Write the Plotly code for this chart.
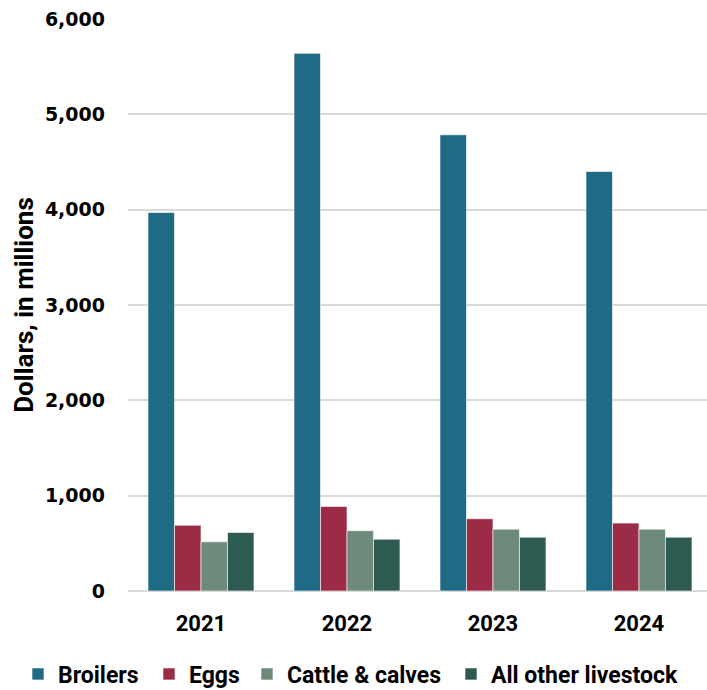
import plotly.graph_objects as go

years = ["2021", "2022", "2023", "2024"]
broilers = [3970, 5640, 4785, 4400]
eggs = [690, 887, 758, 712]
cattle = [516, 632, 649, 649]
other_livestock = [614, 544, 565, 565]

series = [
    ("Broilers", broilers, "#1f6a84"),
    ("Eggs", eggs, "#9c2b46"),
    ("Cattle & calves", cattle, "#6d8a7a"),
    ("All other livestock", other_livestock, "#2d5a51"),
]

# left edge (px) of each legend box along the bottom row
legend_left_px = [18, 149, 247, 451]
W, H = 707, 690

fig = go.Figure()
legend_layout = {}
for i, (name, vals, color) in enumerate(series):
    key = "legend" if i == 0 else f"legend{i + 1}"
    fig.add_trace(go.Bar(
        x=years, y=vals, name=name, legend=key, showlegend=True,
        marker=dict(color=color, line=dict(color="rgba(255,255,255,0.6)", width=1)),
    ))
    legend_layout[key] = dict(
        orientation="h", xref="container", yref="container",
        x=legend_left_px[i] / W, xanchor="left",
        y=16 / H, yanchor="middle",
        font=dict(family="Roboto", size=23, weight="bold"),
        itemwidth=30, bgcolor="rgba(0,0,0,0)",
    )

fig.update_layout(
    width=W, height=H, showlegend=True,
    margin=dict(l=128, r=0, t=19, b=99, autoexpand=False),
    paper_bgcolor="white", plot_bgcolor="white",
    barmode="group", bargap=0.274, bargroupgap=0,
    font=dict(family="Roboto", color="black"),
    xaxis=dict(
        range=[-0.5, 3.466], showgrid=False, showline=False, ticks="",
        tickfont=dict(family="Roboto", size=22, weight="bold"),
        ticklabelstandoff=17,
    ),
    yaxis=dict(
        range=[0, 6000], tickvals=[0, 1000, 2000, 3000, 4000, 5000, 6000],
        tickformat=",", showgrid=True, gridcolor="#d9d9d9", gridwidth=1.5,
        zeroline=True, zerolinecolor="#d9d9d9", zerolinewidth=1.5,
        tickfont=dict(family="DejaVu Sans", size=19, weight="bold"),
        ticklabelstandoff=22,
        title=dict(text="Dollars, in millions", standoff=3,
                   font=dict(family="Roboto", size=26, weight="bold")),
    ),
    **legend_layout,
)

fig.write_html("out.html")
